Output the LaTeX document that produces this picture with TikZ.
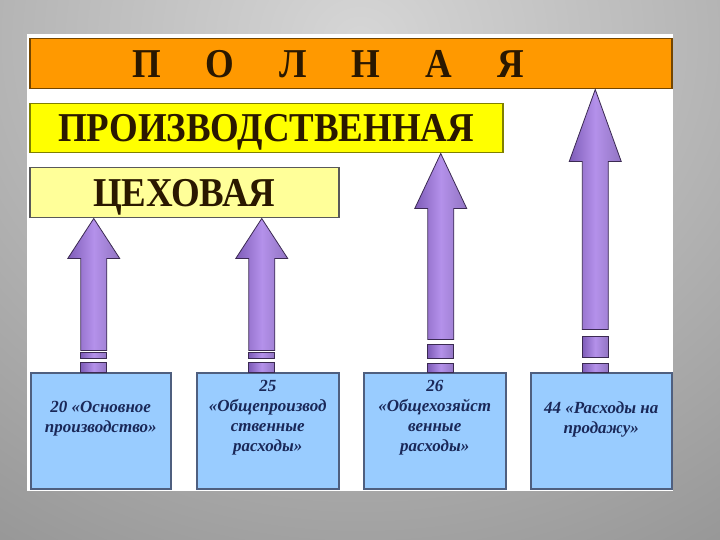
\documentclass[tikz,border=0pt]{standalone}
\usepackage{fontspec}
\usepackage{tikz}
\usetikzlibrary{calc}
\setmainfont{Liberation Serif}
\newfontfamily\barfont{Liberation Serif}[FakeStretch=0.9]
\definecolor{bgin}{HTML}{D6D6D6}
\definecolor{bgout}{HTML}{828282}
\definecolor{orangebar}{HTML}{FF9900}
\definecolor{yellowbar}{HTML}{FFFF00}
\definecolor{paleyellow}{HTML}{FFFF99}
\definecolor{bartext}{HTML}{2A1800}
\definecolor{acctblue}{HTML}{99CCFF}
\definecolor{acctline}{HTML}{4F5F7F}
\definecolor{accttext}{HTML}{1A2858}
\definecolor{violetdark}{HTML}{7E5CB8}
\definecolor{violetlight}{HTML}{B491EA}
\definecolor{violetline}{HTML}{3B2A52}
\tikzset{levelbar/.style={draw,line width=1.5pt,anchor=north west,inner sep=0pt}}
\tikzset{bartitle/.style={text=bartext,text depth=0pt,font=\barfont\bfseries\fontsize{41}{41}\selectfont}}
\tikzset{account/.style={draw=acctline,fill=acctblue,line width=1.5pt,anchor=north west,minimum height=116}}
\tikzset{accountlabel/.style={text=accttext,align=center,font=\bfseries\itshape\fontsize{17}{20}\selectfont}}
\tikzset{fatarrow/.style={draw=violetline,line width=0.8pt,left color=violetdark,right color=violetdark!85,middle color=violetlight}}
% block arrow: box, x offset, bar, head length, shaft length, stripes
\newcommand{\blockarrow}[6]{%
  \shadedraw[fatarrow] ($(#1.north |- #3.south)+(#2,0)$) -- ++(26,#4) -- ++(-13,0)
    -- ++(0,#5) -- ++(-26,0) -- ++(0,-#5) -- ++(-13,0) -- cycle;
  \foreach \a/\b in {#6}
    \shadedraw[fatarrow] ($(#1.north)+(#2,0)$) ++(-13,-\a) rectangle ++(26,\a-\b);
}

\begin{document}
\begin{tikzpicture}[x=1pt,y=-1pt]
    \useasboundingbox (0,0) rectangle (720,540);
    \begin{scope}
        \clip (0,0) rectangle (720,540);
        \shade[inner color=bgin,outer color=bgout] (360,40) ellipse (900 and 800);
    \end{scope}
    \fill[white] (27,34) rectangle (673,491);
    % levels
    \node[levelbar,draw=orangebar!45!black,fill=orangebar,minimum width=642,minimum height=50] (polnaya) at (29,38) {};
    \node[bartitle] (polnayatext) at (328,64) {П\hspace{45pt}О\hspace{45pt}Л\hspace{45pt}Н\hspace{45pt}А\hspace{45pt}Я};
    \node[levelbar,draw=yellowbar!50!black,fill=yellowbar,minimum width=473,minimum height=49,bartitle] (proizv) at (29,103) {ПРОИЗВОДСТВЕННАЯ};
    \node[levelbar,draw=gray!70!black,fill=paleyellow,minimum width=309,minimum height=50,bartitle] (cex) at (29,167) {ЦЕХОВАЯ};
    % accounts
    \node[account,minimum width=140] (b1) at (30,372) {};
    \node[account,minimum width=142] (b2) at (196,372) {};
    \node[account,minimum width=142] (b3) at (363,372) {};
    \node[account,minimum width=141] (b4) at (530,372) {};
    \node[accountlabel] (t1) at ([yshift=12]b1.center) {20 «Основное\\производство»};
    \node[accountlabel] (t2) at ([yshift=13]b2.center) {25\\«Общепроизвод\\ственные\\расходы»};
    \node[accountlabel] (t3) at ([yshift=13]b3.center) {26\\«Общехозяйст\\венные\\расходы»};
    \node[accountlabel] (t4) at ([yshift=11]b4.center) {44 «Расходы на\\продажу»};
    % arrows
    \blockarrow{b1}{-7}{cex}{40}{92}{0/10,14/20}
    \blockarrow{b2}{-6}{cex}{40}{92}{0/10,14/20}
    \blockarrow{b3}{6}{proizv}{55}{131}{0/9,14/28}
    \blockarrow{b4}{-6}{polnaya}{72}{168}{0/9,15/36}
\end{tikzpicture}
\end{document}
